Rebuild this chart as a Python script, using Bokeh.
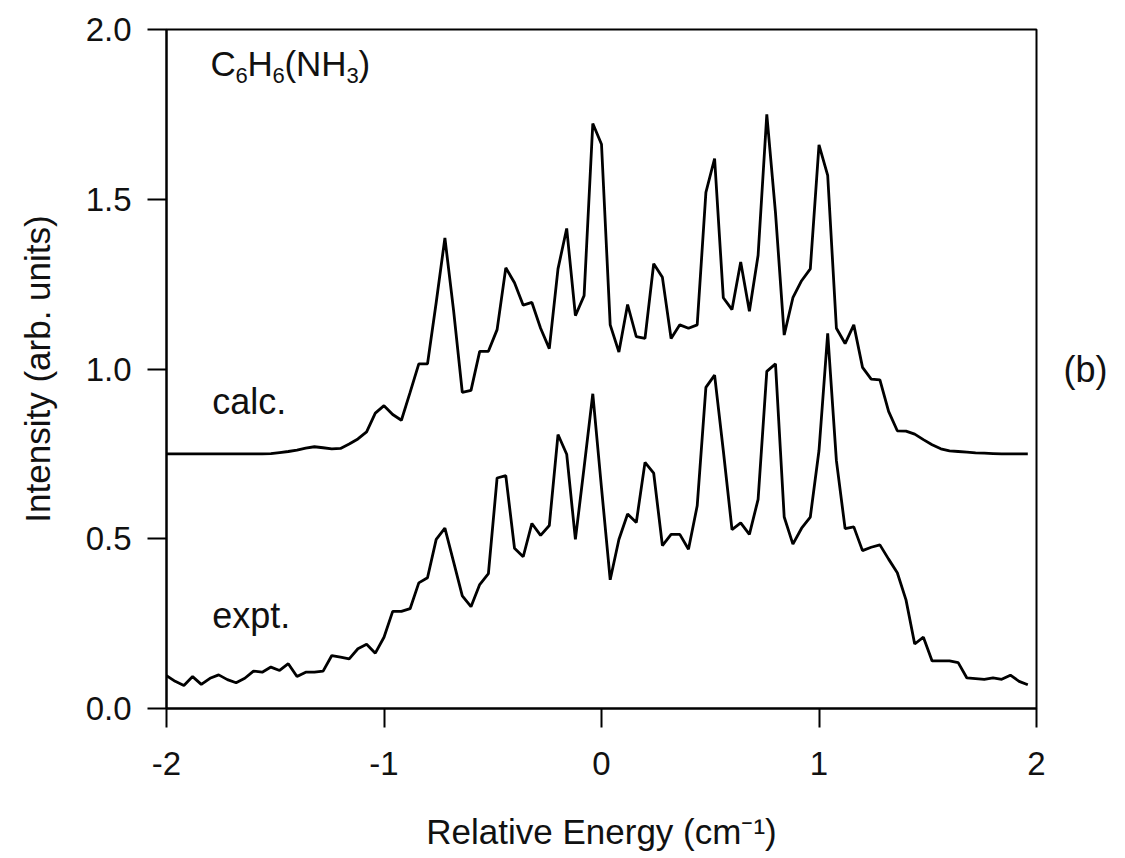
from bokeh.plotting import figure
from bokeh.models import Range1d, FixedTicker, Label, LinearAxis
from bokeh.embed import file_html
from bokeh.resources import INLINE

# Relative energy (cm^-1), sampling of both traces
energy = [
    -2.00, -1.96, -1.92, -1.88, -1.84, -1.80, -1.76, -1.72, -1.68, -1.64,
    -1.60, -1.56, -1.52, -1.48, -1.44, -1.40, -1.36, -1.32, -1.28, -1.24,
    -1.20, -1.16, -1.12, -1.08, -1.04, -1.00, -0.96, -0.92, -0.88, -0.84,
    -0.80, -0.76, -0.72, -0.68, -0.64, -0.60, -0.56, -0.52, -0.48, -0.44,
    -0.40, -0.36, -0.32, -0.28, -0.24, -0.20, -0.16, -0.12, -0.08, -0.04,
    0.00, 0.04, 0.08, 0.12, 0.16, 0.20, 0.24, 0.28, 0.32, 0.36,
    0.40, 0.44, 0.48, 0.52, 0.56, 0.60, 0.64, 0.68, 0.72, 0.76,
    0.80, 0.84, 0.88, 0.92, 0.96, 1.00, 1.04, 1.08, 1.12, 1.16,
    1.20, 1.24, 1.28, 1.32, 1.36, 1.40, 1.44, 1.48, 1.52, 1.56,
    1.60, 1.64, 1.68, 1.72, 1.76, 1.80, 1.84, 1.88, 1.92, 1.96,
]

calc = [
    0.750, 0.750, 0.750, 0.750, 0.750, 0.750, 0.750, 0.750, 0.750, 0.750,
    0.750, 0.750, 0.751, 0.754, 0.757, 0.761, 0.767, 0.771, 0.768, 0.765,
    0.766, 0.779, 0.794, 0.815, 0.870, 0.892, 0.866, 0.849, 0.931, 1.015,
    1.015, 1.196, 1.386, 1.172, 0.931, 0.937, 1.052, 1.052, 1.116, 1.298,
    1.254, 1.188, 1.196, 1.120, 1.060, 1.295, 1.414, 1.157, 1.216, 1.723,
    1.662, 1.130, 1.050, 1.190, 1.095, 1.090, 1.310, 1.270, 1.090, 1.130,
    1.120, 1.130, 1.520, 1.620, 1.210, 1.175, 1.315, 1.170, 1.335, 1.750,
    1.460, 1.100, 1.210, 1.260, 1.295, 1.660, 1.570, 1.120, 1.075, 1.130,
    1.005, 0.970, 0.968, 0.875, 0.818, 0.817, 0.808, 0.792, 0.777, 0.765,
    0.759, 0.757, 0.755, 0.753, 0.752, 0.751, 0.750, 0.750, 0.750, 0.750,
]

expt = [
    0.097, 0.080, 0.068, 0.094, 0.071, 0.089, 0.099, 0.085, 0.076, 0.089,
    0.110, 0.107, 0.122, 0.112, 0.132, 0.094, 0.107, 0.107, 0.110, 0.156,
    0.151, 0.146, 0.176, 0.189, 0.163, 0.210, 0.286, 0.286, 0.294, 0.370,
    0.385, 0.498, 0.531, 0.432, 0.332, 0.300, 0.365, 0.397, 0.679, 0.686,
    0.472, 0.447, 0.545, 0.510, 0.539, 0.807, 0.749, 0.498, 0.710, 0.927,
    0.650, 0.379, 0.498, 0.573, 0.548, 0.725, 0.693, 0.480, 0.513, 0.513,
    0.469, 0.597, 0.946, 0.982, 0.760, 0.527, 0.547, 0.513, 0.616, 0.993,
    1.015, 0.564, 0.484, 0.531, 0.564, 0.760, 1.105, 0.730, 0.530, 0.535,
    0.465, 0.475, 0.482, 0.440, 0.400, 0.320, 0.190, 0.210, 0.140, 0.140,
    0.140, 0.135, 0.090, 0.088, 0.086, 0.090, 0.086, 0.098, 0.080, 0.070,
]

x_ticks = [-2, -1, 0, 1, 2]
x_tick_labels = ["-2", "-1", "0", "1", "2"]
y_ticks = [0.0, 0.5, 1.0, 1.5, 2.0]
y_tick_labels = ["0.0", "0.5", "1.0", "1.5", "2.0"]

FONT = "Liberation Sans"
INK = "#111111"

p = figure(width=1125, height=858, output_backend="svg", toolbar_location=None,
           x_range=Range1d(-2, 2), y_range=Range1d(0, 2),
           min_border_left=166, min_border_right=89,
           min_border_top=29, min_border_bottom=150)
p.background_fill_color = "white"
p.border_fill_color = "white"
p.outline_line_color = "black"
p.outline_line_width = 2
p.grid.visible = False

p.line(energy, calc, line_color="black", line_width=2.8)
p.line(energy, expt, line_color="black", line_width=2.8)

p.xaxis.ticker = FixedTicker(ticks=x_ticks)
p.xaxis.major_label_overrides = {t: l for t, l in zip(x_ticks, x_tick_labels)}
p.yaxis.ticker = FixedTicker(ticks=y_ticks)
p.yaxis.major_label_overrides = {t: l for t, l in zip(y_ticks, y_tick_labels)}

for ax in (p.xaxis[0], p.yaxis[0]):
    ax.axis_line_color = "black"
    ax.axis_line_width = 2
    ax.major_tick_line_color = "black"
    ax.major_tick_line_width = 2
    ax.major_tick_out = 19
    ax.major_tick_in = 0
    ax.minor_tick_line_color = None
    ax.major_label_text_font = FONT
    ax.major_label_text_font_size = "33px"
    ax.major_label_text_color = INK
    ax.axis_label_text_font = FONT
    ax.axis_label_text_font_size = "35px"
    ax.axis_label_text_font_style = "normal"
    ax.axis_label_text_color = INK

p.xaxis.axis_label = "Relative Energy (cm\u207b\u00b9)"
p.xaxis.major_label_standoff = 24
p.xaxis.axis_label_standoff = 34
p.yaxis.axis_label = "Intensity (arb. units)"
p.yaxis.major_label_standoff = 16
p.yaxis.axis_label_standoff = 26

# panel tag "(b)" to the right of the frame, via an unticked right axis
tag_axis = LinearAxis(ticker=FixedTicker(ticks=[]), axis_label="(b)",
                      axis_line_color=None, major_tick_line_color=None,
                      minor_tick_line_color=None, major_tick_out=0,
                      major_label_standoff=0, axis_label_standoff=27,
                      axis_label_text_font=FONT, axis_label_text_font_size="36px",
                      axis_label_text_font_style="normal",
                      axis_label_text_color=INK,
                      axis_label_orientation="horizontal")
p.add_layout(tag_axis, "right")

def add_text(x, y, text, size="36px", x_offset=0):
    p.add_layout(Label(x=x, y=y, text=text, x_offset=x_offset,
                       text_font=FONT, text_font_size=size,
                       text_color=INK, text_align="left",
                       text_baseline="alphabetic"))

# curve labels
add_text(-1.79, 0.905, "calc.")
add_text(-1.79, 0.275, "expt.")

# molecule label C6H6(NH3) with subscripts
base_x = -1.798
base_y = 1.900
sub_y = 1.865
add_text(base_x, base_y, "C", size="35px", x_offset=0)
add_text(base_x, sub_y, "6", size="22px", x_offset=25)
add_text(base_x, base_y, "H", size="35px", x_offset=37)
add_text(base_x, sub_y, "6", size="22px", x_offset=62)
add_text(base_x, base_y, "(NH", size="35px", x_offset=74)
add_text(base_x, sub_y, "3", size="22px", x_offset=136)
add_text(base_x, base_y, ")", size="35px", x_offset=148)

open("out.html", "w").write(file_html(p, INLINE))
